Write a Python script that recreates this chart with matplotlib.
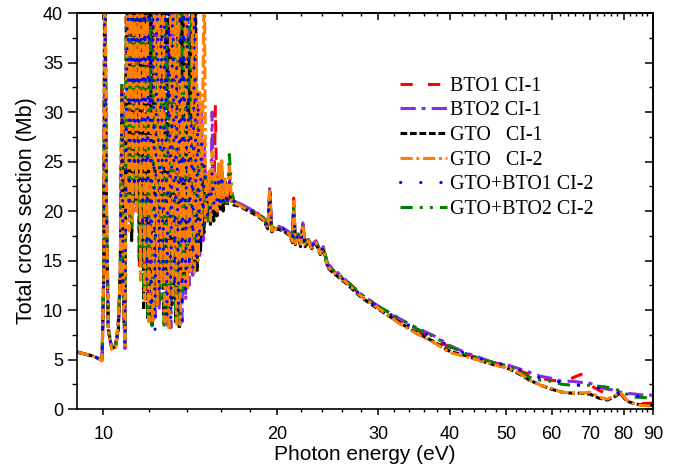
import matplotlib
matplotlib.use('Agg')
from matplotlib import pyplot as plt
from matplotlib.ticker import NullFormatter

# photon energy grid (eV): onset / dense resonances / post resonances / smooth tail
e_onset = [9.0, 9.3, 9.6, 9.85, 9.95, 10.02, 10.06, 10.12, 10.2, 10.34, 10.5, 10.62, 10.7, 10.77, 10.83, 10.9]
# resonance positions differ a little between basis sets -> two grids
e_dense_a = [10.98, 11.05, 11.12, 11.2, 11.28, 11.36, 11.45, 11.55, 11.65, 11.75, 11.85, 11.95, 12.05, 12.15,
             12.25, 12.35, 12.45, 12.55, 12.65, 12.75, 12.85, 12.95, 13.05, 13.15, 13.25, 13.35, 13.45, 13.55,
             13.65, 13.75, 13.85, 13.95, 14.05, 14.15, 14.25, 14.35, 14.45, 14.55, 14.65, 14.75, 14.85, 14.95]
e_dense_b = [11.02, 11.09, 11.16, 11.24, 11.32, 11.41, 11.5, 11.6, 11.7, 11.8, 11.9, 12.0, 12.1, 12.2,
             12.3, 12.4, 12.5, 12.6, 12.7, 12.8, 12.9, 13.0, 13.1, 13.2, 13.3, 13.4, 13.5, 13.6,
             13.7, 13.8, 13.9, 14.0, 14.1, 14.2, 14.3, 14.4, 14.5, 14.6, 14.7, 14.8, 14.9, 14.98]
e_post = [15.05, 15.15, 15.25, 15.35, 15.45, 15.55, 15.65, 15.75, 15.85, 15.95, 16.05, 16.15, 16.25, 16.4,
          16.55, 16.7, 16.85]
e_tail = [17.2, 17.6, 18.0, 18.5, 19.0, 19.3, 19.45, 19.6, 20.0, 20.5, 21.0, 21.3, 21.4, 21.55, 21.8, 22.0,
          22.2, 22.4, 22.7, 23.0, 23.4, 23.8, 24.1, 24.5, 25.0, 25.5, 26.5, 28.0, 30.0, 32.5, 35.0, 37.5, 40.0,
          42.5, 45.0, 47.5, 50.0, 52.5, 55.0, 57.5, 60.0, 62.5, 65.0, 67.5, 70.0, 72.5, 75.0, 77.5, 79.0, 81.0,
          84.0, 87.0, 90.0]
energy_a = e_onset + e_dense_a + e_post + e_tail
energy_b = e_onset + e_dense_b + e_post + e_tail

# total cross section (Mb)
bto1_ci1 = [5.75, 5.55, 5.35, 5.05, 4.85, 14, 48, 22, 8.0, 6.1, 6.3, 8.5, 13.5, 33.4, 12, 6.3,
            48, 21, 50, 18, 46, 22, 52, 14, 47, 11, 49, 9.5, 42, 8.8, 50, 11, 38, 13, 46, 9.0, 29, 8.5, 45, 11,
            36, 9.0, 48, 8.3, 42, 12, 47, 13, 38, 14, 45, 14.5, 33, 16, 28, 18, 26, 18.5,
            24, 19, 23, 19, 25, 20, 30.7, 20, 24, 20.5, 25, 20.5, 23, 20.8, 24, 21, 21,
            20.7, 20.4, 20.1, 19.7, 19.2, 18.4, 22.0, 18.1, 18.4, 18.2, 17.8, 17.0, 21.3, 16.8, 17.6, 16.6,
            18.7, 16.6, 17.1, 16.4, 16.9, 15.8, 16.3, 14.5, 14.0, 13.6, 12.8, 11.5, 10.3, 9.1, 8.0, 7.1, 6.2,
            5.6, 5.1, 4.7, 4.4, 3.9, 3.5, 3.1, 2.9, 2.8, 3.1, 3.5, 2.4, 1.9, 1.5, 1.6, 1.6, 0.9, 0.6, 0.55, 0.6]
bto2_ci1 = [5.75, 5.55, 5.35, 5.05, 4.85, 13, 46, 20, 7.8, 6.2, 6.4, 9.0, 12.5, 30.0, 11, 6.1,
            46, 19, 24, 52, 20, 44, 24, 50, 16, 49, 12, 45, 10, 44, 9.2, 48, 10, 26, 12, 48, 8.6, 38, 8.2, 47,
            12, 34, 9.5, 46, 8.8, 44, 11, 45, 12.5, 40, 13.5, 47, 15, 31, 15.5, 30, 17, 27,
            23, 20, 22, 19.5, 30, 19, 22, 20.5, 23, 21, 24, 21, 22.5, 21, 23, 21.2, 20.9,
            20.8, 20.5, 20.2, 19.8, 19.3, 18.5, 22.4, 18.3, 18.5, 18.3, 17.9, 17.2, 20.5, 17.0, 17.7, 16.8,
            18.8, 16.8, 17.2, 16.6, 17.0, 16.0, 16.4, 14.7, 14.2, 13.8, 12.9, 11.6, 10.4, 9.2, 8.2, 7.4, 6.4,
            5.7, 5.2, 4.7, 4.5, 4.1, 3.7, 3.3, 3.1, 2.8, 2.8, 2.7, 2.6, 2.2, 2.0, 1.9, 1.7, 1.6, 1.5, 1.4, 1.4]
gto_ci1 = [5.75, 5.55, 5.35, 5.05, 4.85, 15, 50, 21, 8.2, 6.1, 6.3, 8.0, 14.0, 31.0, 12.5, 6.4,
           50, 22, 47, 17, 49, 21, 48, 15, 51, 10, 52, 9.0, 40, 8.5, 52, 12, 31, 14, 44, 9.5, 42, 9.0, 43, 10.5,
           28, 8.8, 50, 8.1, 41, 13, 49, 13.5, 36, 14.5, 43, 14, 46, 14, 26, 16, 24, 17.8,
           22, 19, 21, 18.5, 22, 19, 21, 19.5, 22, 20, 23, 20, 22, 20.5, 22.5, 20.8, 20.6,
           20.5, 20.2, 19.9, 19.5, 19.0, 18.2, 21.8, 17.9, 18.2, 18.0, 17.6, 16.8, 20.6, 16.6, 17.4, 16.4,
           18.5, 16.4, 16.9, 16.2, 16.7, 15.6, 16.1, 14.3, 13.8, 13.4, 12.6, 11.3, 10.1, 8.8, 7.7, 6.8, 5.8,
           5.4, 4.9, 4.5, 4.2, 3.6, 2.9, 2.4, 2.0, 1.7, 1.6, 1.6, 1.5, 1.1, 0.9, 1.3, 1.6, 0.8, 0.5, 0.4, 0.35]
gto_ci2 = [5.75, 5.55, 5.35, 5.05, 4.85, 14, 52, 23, 8.1, 6.0, 6.2, 8.8, 13.8, 31.5, 11.5, 6.2,
           52, 18, 55, 19, 50, 20, 55, 13, 53, 11, 50, 8.8, 30, 8.7, 54, 10.5, 42, 12.5, 50, 8.8, 27, 8.0, 49,
           11.5, 40, 8.6, 52, 8.5, 33, 12.5, 51, 12, 29, 13.8, 49, 13.8, 38, 15, 32, 17.5, 34, 45,
           19, 22, 24, 19, 26, 20, 24, 20, 25, 20.5, 25.3, 21, 23.5, 21, 24.5, 21, 20.8,
           20.6, 20.3, 20.0, 19.6, 19.1, 18.3, 22.0, 18.0, 18.3, 18.1, 17.7, 16.9, 21.0, 16.7, 17.5, 16.5,
           18.6, 16.5, 17.0, 16.3, 16.8, 15.7, 16.2, 14.4, 13.9, 13.5, 12.7, 11.4, 10.2, 8.7, 7.6, 6.7, 5.7,
           5.3, 4.9, 4.5, 4.2, 3.7, 2.9, 2.4, 2.1, 1.7, 1.6, 1.6, 1.7, 1.2, 1.0, 1.4, 1.7, 0.9, 0.45, 0.35, 0.3]
gto_bto1_ci2 = [5.75, 5.55, 5.35, 5.05, 4.85, 13.5, 47, 21, 7.9, 6.2, 6.3, 8.4, 13.0, 32.5, 12, 6.3,
                47, 20, 30, 49, 22, 45, 23, 51, 17, 46, 13, 48, 9.8, 41, 7.7, 49, 11.5, 39, 13.5, 45, 9.2, 41,
                8.7, 46, 11, 35, 9.3, 47, 8.9, 43, 11.5, 46, 14, 30, 14.2, 44, 15.2, 32, 16.5, 27, 18.5, 25,
                23, 19.5, 22, 20, 24, 20.5, 23, 21, 23, 20, 24, 21, 22, 21, 23, 21.2, 21,
                20.7, 20.4, 20.1, 19.7, 19.2, 18.4, 21.5, 18.1, 18.4, 18.2, 17.8, 17.0, 20.0, 16.9, 17.6, 16.6,
                18.2, 16.6, 17.1, 16.4, 16.9, 15.8, 16.3, 14.5, 14.0, 13.6, 12.8, 11.5, 10.3, 9.1, 8.0, 7.2, 6.3,
                5.6, 5.1, 4.7, 4.4, 4.0, 3.5, 3.1, 2.9, 2.7, 2.5, 2.4, 2.3, 2.1, 1.9, 1.7, 1.6, 1.5, 1.3, 1.3, 1.25]
gto_bto2_ci2 = [5.75, 5.55, 5.35, 5.05, 4.85, 14.5, 49, 22, 8.3, 6.1, 6.3, 8.6, 13.6, 33.0, 12.2, 6.2,
                49, 21, 51, 18, 48, 22, 47, 15, 50, 11, 51, 9.4, 43, 8.4, 47, 10, 37, 11, 47, 8.1, 39, 8.4, 35,
                12, 37, 9.1, 49, 8.6, 40, 12, 48, 13, 39, 14, 46, 14.6, 34, 16, 29, 18, 27, 18.5,
                24, 19, 23, 19, 25, 20, 22, 20.5, 24, 21, 25, 20.5, 23, 20.8, 25.7, 22, 21,
                20.8, 20.4, 20.2, 19.8, 19.3, 18.4, 22.0, 18.2, 18.4, 18.2, 17.8, 17.1, 20.4, 16.9, 17.6, 16.7,
                18.5, 16.6, 17.1, 16.5, 16.9, 15.9, 16.4, 14.6, 14.1, 13.7, 12.9, 11.6, 10.4, 9.2, 8.1, 7.3, 6.3,
                5.6, 5.1, 4.7, 4.4, 3.9, 3.2, 2.9, 2.8, 2.5, 2.4, 2.4, 2.4, 2.3, 2.2, 2.0, 1.8, 1.5, 1.2, 1.15, 1.1]

labels = ['BTO1 CI-1', 'BTO2 CI-1', 'GTO   CI-1', 'GTO   CI-2', 'GTO+BTO1 CI-2', 'GTO+BTO2 CI-2']
major_ticks = [10, 20, 30, 40, 50, 60, 70, 80, 90]
minor_ticks = [12, 14, 16, 18, 22, 24, 26, 28, 32, 34, 36, 38, 42, 44, 46, 48, 52, 54, 56, 58,
               62, 64, 66, 68, 72, 74, 76, 78, 82, 84, 86, 88]


def draw_figure():
    plt.rcParams['font.family'] = ['Liberation Sans', 'DejaVu Sans']
    fig = plt.figure(figsize=(6.74, 4.66), dpi=100)
    ax = fig.add_axes([0.1142, 0.1223, 0.8546, 0.8498])

    series = [bto1_ci1, bto2_ci1, gto_ci1, gto_ci2, gto_bto1_ci2, gto_bto2_ci2]
    grids = [energy_a, energy_b, energy_a, energy_b, energy_b, energy_a]
    colors = ['#ff0000', '#8a2be2', '#000000', '#ff8000', '#0000ff', '#008000']
    dashes = [(0, (4, 5)), (0, (5, 1.9, 1.3, 2)), (0, (2.2, 0.9)), (0, (4, 1.2, 1, 1.2)),
              (0, (0.1, 6.5)), (0, (4, 2.3, 1, 2.3, 1, 2.3))]
    caps = ['butt', 'butt', 'butt', 'butt', 'round', 'butt']
    # drawing order: orange near the top, sparse blue dots above it
    order = [0, 1, 2, 5, 3, 4]
    handles = [None] * 6
    for i in order:
        line, = ax.plot(grids[i], series[i], color=colors[i], linestyle=dashes[i], lw=2.2,
                        dash_capstyle=caps[i], label=labels[i])
        handles[i] = line

    ax.set_xscale('log')
    ax.set_xlim(9.0, 90)
    ax.set_ylim(0, 40)
    ax.set_xticks(major_ticks, labels=[str(t) for t in major_ticks])
    ax.set_xticks(minor_ticks, minor=True)
    ax.xaxis.set_minor_formatter(NullFormatter())
    ax.set_yticks(range(0, 41, 5))
    ax.set_yticks([v + 2.5 for v in range(0, 40, 5)], minor=True)

    ax.tick_params(axis='x', which='major', direction='out', length=4.5, width=1.1, labelsize=13, pad=8)
    ax.tick_params(axis='x', which='minor', direction='out', length=2.2, width=1.0)
    ax.tick_params(axis='y', which='major', direction='out', length=6.5, width=1.1, labelsize=13, pad=3.5)
    ax.tick_params(axis='y', which='minor', direction='out', length=3.3, width=1.0)
    for sp in ax.spines.values():
        sp.set_linewidth(1.2)

    # inward ticks on top and right
    top = ax.secondary_xaxis('top')
    top.set_xticks(major_ticks)
    top.set_xticks(minor_ticks, minor=True)
    top.xaxis.set_major_formatter(NullFormatter())
    top.xaxis.set_minor_formatter(NullFormatter())
    top.tick_params(axis='x', which='major', direction='in', length=5, width=1.1)
    top.tick_params(axis='x', which='minor', direction='in', length=2.5, width=1.0)
    top.spines['top'].set_linewidth(1.2)
    right = ax.secondary_yaxis('right')
    right.set_yticks(range(0, 41, 5))
    right.set_yticks([v + 2.5 for v in range(0, 40, 5)], minor=True)
    right.yaxis.set_major_formatter(NullFormatter())
    right.tick_params(axis='y', which='major', direction='in', length=5.5, width=1.1)
    right.tick_params(axis='y', which='minor', direction='in', length=3, width=1.0)
    right.spines['right'].set_linewidth(1.2)

    ax.set_xlabel('Photon energy (eV)', fontsize=15, labelpad=1)
    ax.set_ylabel('Total cross section (Mb)', fontsize=15.5, labelpad=4)

    ax.legend(handles=handles, labels=labels, loc='upper left', bbox_to_anchor=(0.5935, 0.835),
              bbox_transform=fig.transFigure, frameon=False,
              prop={'family': 'Liberation Serif', 'size': 14.4}, handlelength=2.35,
              handletextpad=0.15, labelspacing=0.28, borderpad=0, borderaxespad=0)

    plt.savefig('out.png', dpi=100)


if __name__ == '__main__':
    draw_figure()
